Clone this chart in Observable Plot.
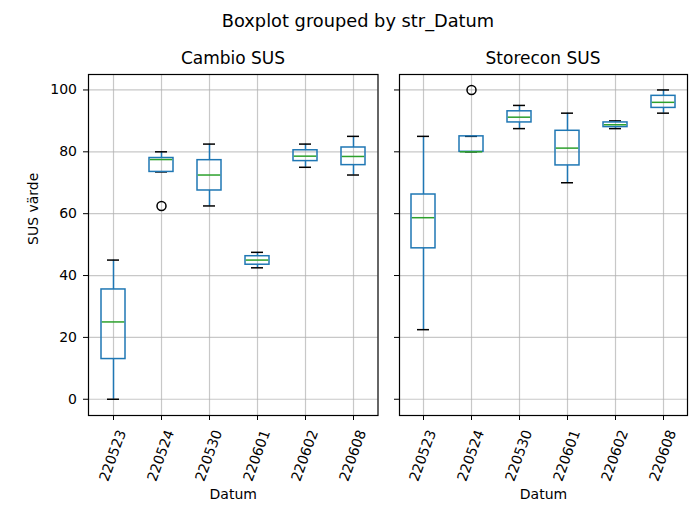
<!DOCTYPE html>
<html><head><meta charset="utf-8">
<script src="https://cdn.jsdelivr.net/npm/d3@7"></script>
<script src="https://cdn.jsdelivr.net/npm/@observablehq/plot@0.6"></script>
<style>
body{margin:0;background:#fff;font-family:"DejaVu Sans",sans-serif;}
#wrap{position:relative;width:694px;height:507px;overflow:hidden;}
.t{position:absolute;white-space:nowrap;transform:translate(-50%,-50%);color:#000;font-size:17px;}
.p{position:absolute;top:0;}
</style></head><body>
<div id="wrap">
<div class="t" style="left:358px;top:20px;font-size:17.8px">Boxplot grouped by str_Datum</div>
<div class="t" style="left:233px;top:58px">Cambio SUS</div>
<div class="t" style="left:543px;top:58px">Storecon SUS</div>
</div>
<script>
// Categories (x tick labels)
const categories = ["220523","220524","220530","220601","220602","220608"];
const yTicks = [0, 20, 40, 60, 80, 100];

// Cambio SUS summary values per date
const cambioWhisLo = [0, 73.5, 62.5, 42.5, 75, 72.5];
const cambioQ1     = [13, 73.5, 67.5, 43.5, 77, 75.7];
const cambioMed    = [25, 77.5, 72.5, 45, 78.6, 78.5];
const cambioQ3     = [35.5, 78, 77.3, 46.25, 80.5, 81.4];
const cambioWhisHi = [45, 80, 82.5, 47.5, 82.5, 85];
const cambioOutlierDates  = ["220524"];
const cambioOutlierValues = [62.5];

// Storecon SUS summary values per date
const storeconWhisLo = [22.5, 80, 87.5, 70, 87.5, 92.5];
const storeconQ1     = [48.8, 80, 89.5, 75.6, 88, 94.2];
const storeconMed    = [58.7, 80, 91.2, 81.2, 88.75, 96];
const storeconQ3     = [66.2, 85, 93.1, 86.8, 89.5, 98.1];
const storeconWhisHi = [85, 85, 95, 92.5, 90, 100];
const storeconOutlierDates  = ["220524"];
const storeconOutlierValues = [100];

const BLUE = "#1f77b4", GREEN = "#2ca02c";

function rows(lo, q1, med, q3, hi) {
  return categories.map((c, i) => ({date: c, lo: lo[i], q1: q1[i], med: med[i], q3: q3[i], hi: hi[i]}));
}

function panel(data, oDates, oValues, {width, marginLeft, marginRight, showY}) {
  const marks = [
    Plot.gridY(yTicks, {stroke: "#b0b0b0", strokeOpacity: 0.7, strokeWidth: 1.2}),
    Plot.gridX(categories, {stroke: "#b0b0b0", strokeOpacity: 0.7, strokeWidth: 1.2}),
    Plot.ruleX(data, {x: "date", y1: "lo", y2: "q1", stroke: BLUE, strokeWidth: 1.5}),
    Plot.ruleX(data, {x: "date", y1: "q3", y2: "hi", stroke: BLUE, strokeWidth: 1.5}),
    Plot.tickY(data, {x: "date", y: "lo", stroke: "#000", strokeWidth: 1.5, insetLeft: 18, insetRight: 18}),
    Plot.tickY(data, {x: "date", y: "hi", stroke: "#000", strokeWidth: 1.5, insetLeft: 18, insetRight: 18}),
    Plot.barY(data, {x: "date", y1: "q1", y2: "q3", fill: "none", stroke: BLUE, strokeWidth: 1.5, insetLeft: 12, insetRight: 12}),
    Plot.tickY(data, {x: "date", y: "med", stroke: GREEN, strokeWidth: 1.5, insetLeft: 12.75, insetRight: 12.75}),
    Plot.dot(oValues, {x: (d, i) => oDates[i], y: d => d, r: 4.5, stroke: "#000", strokeWidth: 1.5, fill: "none"}),
    Plot.frame({stroke: "#000", strokeWidth: 1.2}),
    Plot.axisY({ticks: yTicks, tickSize: 5, tickPadding: 6.5, fontSize: 14, label: null,
      tickFormat: showY ? (d => String(d)) : (() => "")}),
    Plot.axisX({tickSize: 5, tickFormat: () => "", label: null}),
    Plot.text(categories, {x: d => d, frameAnchor: "bottom", rotate: -70, textAnchor: "end", lineAnchor: "middle",
      dx: 8.5, dy: 15, fontSize: 14, fill: "#000"}),
    Plot.text(["Datum"], {frameAnchor: "bottom", dy: 83, fontSize: 14, fill: "#000"})
  ];
  if (showY) marks.push(Plot.text(["SUS värde"], {frameAnchor: "left", rotate: -90, dx: -55, fontSize: 14, fill: "#000"}));
  return Plot.plot({
    width, height: 507, marginLeft, marginRight, marginTop: 74, marginBottom: 92,
    style: {fontFamily: "DejaVu Sans", fontSize: "14px", background: "transparent", overflow: "visible", color: "#000"},
    x: {type: "band", domain: categories, padding: 0, label: null},
    y: {domain: [-5.25, 105], label: null},
    marks
  });
}

const wrap = document.getElementById("wrap");
const left = panel(rows(cambioWhisLo, cambioQ1, cambioMed, cambioQ3, cambioWhisHi), cambioOutlierDates, cambioOutlierValues,
  {width: 388, marginLeft: 88, marginRight: 10.5, showY: true});
left.classList.add("p"); left.style.left = "0px";
const right = panel(rows(storeconWhisLo, storeconQ1, storeconMed, storeconQ3, storeconWhisHi), storeconOutlierDates, storeconOutlierValues,
  {width: 306, marginLeft: 11, marginRight: 7, showY: false});
right.classList.add("p"); right.style.left = "388px";
wrap.appendChild(left);
wrap.appendChild(right);
</script>
</body></html>
